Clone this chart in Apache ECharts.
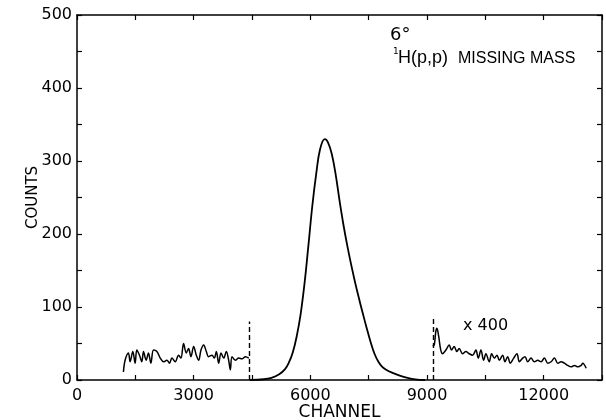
<!DOCTYPE html>
<html>
<head>
<meta charset="utf-8">
<script src="https://cdn.jsdelivr.net/npm/echarts@6/dist/echarts.min.js"></script>
<style>html,body{margin:0;padding:0;background:#fff;}#c{width:606px;height:420px;}</style>
</head>
<body>
<div id="c"></div>
<script>
// Central peak (1H(p,p) missing mass)
var peakChannels = [4450, 4800, 5000, 5200, 5350, 5450, 5550, 5650, 5750, 5850, 5950, 6050, 6150, 6250, 6370, 6450, 6550, 6650, 6750, 6850, 6950, 7050, 7150, 7250, 7350, 7450, 7550, 7650, 7750, 7850, 7950, 8100, 8300, 8500, 8700, 8950];
var peakCounts   = [0, 1, 3, 8, 15, 24, 38, 60, 90, 132, 184, 238, 282, 316, 330, 326, 310, 282, 246, 213, 184, 158, 134, 112, 91, 71, 52, 36, 25, 18, 14, 10, 6, 3, 1, 0];

// Left background (x 400)
var leftChannels = [1194, 1237, 1323, 1366, 1435, 1495, 1538, 1607, 1667, 1710, 1778, 1838, 1899, 1968, 2054, 2140, 2225, 2311, 2380, 2440, 2526, 2612, 2672, 2741, 2809, 2869, 2930, 2999, 3067, 3128, 3188, 3256, 3325, 3385, 3471, 3531, 3583, 3643, 3703, 3772, 3840, 3900, 3943, 3986, 4072, 4158, 4244, 4330, 4420];
var leftCounts   = [11, 27, 37, 25, 39, 23, 41, 34, 25, 39, 27, 37, 23, 41, 39, 30, 25, 27, 23, 30, 25, 34, 30, 50, 37, 43, 32, 46, 34, 27, 41, 48, 39, 32, 34, 30, 39, 23, 37, 30, 39, 27, 14, 32, 27, 30, 29, 32, 30];

// Right background (x 400)
var rightChannels = [9150, 9190, 9225, 9255, 9300, 9350, 9399, 9485, 9570, 9631, 9699, 9768, 9828, 9914, 10000, 10085, 10172, 10258, 10318, 10387, 10456, 10515, 10601, 10662, 10731, 10799, 10859, 10945, 11005, 11074, 11142, 11229, 11314, 11374, 11460, 11520, 11589, 11675, 11760, 11847, 11933, 12019, 12105, 12191, 12277, 12363, 12449, 12534, 12620, 12706, 12792, 12878, 12964, 13006, 13093];
var rightCounts   = [46, 49, 66, 71, 60, 42, 36, 41, 48, 41, 46, 39, 43, 36, 39, 36, 34, 41, 30, 41, 27, 36, 25, 36, 30, 34, 27, 34, 25, 32, 23, 30, 36, 25, 30, 32, 25, 30, 25, 27, 25, 30, 23, 25, 30, 23, 25, 23, 20, 18, 20, 18, 20, 23, 16];

// Dashed separators [channel, height]
var cutChannels = [4420, 9150];
var cutHeights  = [80, 87];

var xTicks = [0, 3000, 6000, 9000, 12000];
var yTicks = [0, 100, 200, 300, 400, 500];

function zip(a, b) { return a.map(function (v, i) { return [v, b[i]]; }); }

var FONT = 'DejaVu Sans';
var chart = echarts.init(document.getElementById('c'));
var axisLineStyle = { color: '#000', width: 1.5 };
var tickStyle = { inside: true, length: 5, lineStyle: { color: '#000', width: 1.2 } };

chart.setOption({
  animation: false,
  backgroundColor: '#fff',
  grid: { left: 77, right: 4, top: 15, bottom: 40, containLabel: false, outerBoundsMode: 'none' },
  xAxis: [{
    type: 'value', min: 0, max: 13500, interval: 1500,
    axisLine: { lineStyle: axisLineStyle },
    axisTick: tickStyle,
    splitLine: { show: false },
    axisLabel: {
      color: '#000', fontFamily: FONT, fontSize: 16, margin: 8,
      formatter: function (v) { return xTicks.indexOf(v) >= 0 ? String(v) : ''; }
    },
    name: 'CHANNEL', nameLocation: 'middle', nameGap: 24, nameMoveOverlap: false,
    nameTextStyle: { color: '#000', fontFamily: FONT, fontSize: 17, verticalAlign: 'top' }
  }, {
    type: 'value', position: 'top', min: 0, max: 13500, interval: 1500,
    axisLine: { show: true, onZero: false, lineStyle: axisLineStyle },
    axisTick: tickStyle, axisLabel: { show: false }, splitLine: { show: false }
  }],
  yAxis: [{
    type: 'value', min: 0, max: 500, interval: 50,
    axisLine: { show: true, lineStyle: axisLineStyle },
    axisTick: tickStyle,
    splitLine: { show: false },
    axisLabel: {
      color: '#000', fontFamily: FONT, fontSize: 16, margin: 5,
      formatter: function (v) { return yTicks.indexOf(v) >= 0 ? String(v) : ''; }
    },
    name: 'COUNTS', nameLocation: 'middle', nameGap: 36, nameRotate: 90, nameMoveOverlap: false,
    nameTextStyle: { color: '#000', fontFamily: FONT, fontSize: 15 }
  }, {
    type: 'value', position: 'right', min: 0, max: 500, interval: 50,
    axisLine: { show: true, onZero: false, lineStyle: axisLineStyle },
    axisTick: tickStyle, axisLabel: { show: false }, splitLine: { show: false }
  }],
  series: [{
    type: 'line', data: zip(peakChannels, peakCounts), smooth: 0.4,
    symbol: 'none', lineStyle: { color: '#000', width: 1.8 },
    markLine: {
      silent: true, symbol: ['none', 'none'], label: { show: false },
      lineStyle: { color: '#000', type: [5, 3], width: 1.4 },
      data: cutChannels.map(function (c, i) {
        return [{ coord: [c, 0] }, { coord: [c, cutHeights[i]] }];
      })
    }
  }, {
    type: 'line', data: zip(leftChannels, leftCounts), smooth: 0.35,
    symbol: 'none', lineStyle: { color: '#000', width: 1.5 }
  }, {
    type: 'line', data: zip(rightChannels, rightCounts), smooth: 0.35,
    symbol: 'none', lineStyle: { color: '#000', width: 1.5 }
  }],
  graphic: [
    { type: 'text', left: 390, top: 26, style: { text: '6°', font: '18px "DejaVu Sans"', fill: '#000' } },
    { type: 'text', left: 393, top: 47, style: { text: '1', font: '9px "DejaVu Sans"', fill: '#000' } },
    { type: 'text', left: 398, top: 49, style: { text: 'H(p,p)', font: '18px "Liberation Sans"', fill: '#000' } },
    { type: 'text', left: 458, top: 51, style: { text: 'MISSING MASS', font: '16px "Liberation Sans"', fill: '#000' } },
    { type: 'text', left: 463, top: 318, style: { text: 'x 400', font: '16px "DejaVu Sans"', fill: '#000' } }
  ]
});
</script>
</body>
</html>
